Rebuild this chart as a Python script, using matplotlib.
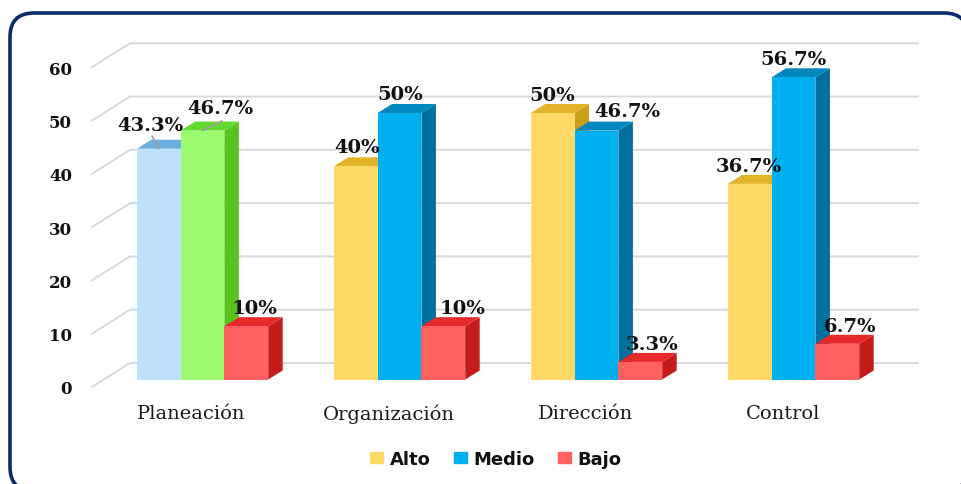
import matplotlib
matplotlib.use('Agg')
import matplotlib.pyplot as plt
from matplotlib.patches import FancyBboxPatch, Patch

categories = ['Planeación', 'Organización', 'Dirección', 'Control']
alto = [43.3, 40, 50, 36.7]
medio = [46.7, 50, 46.7, 56.7]
bajo = [10, 10, 3.3, 6.7]
alto_labels = ['43.3%', '40%', '50%', '36.7%']
medio_labels = ['46.7%', '50%', '46.7%', '56.7%']
bajo_labels = ['10%', '10%', '3.3%', '6.7%']
y_ticks = [0, 10, 20, 30, 40, 50, 60]

# colores (frente, tapa, lado)
amarillo = ('#FFD966', '#E2B428', '#C99E1C')
azul = ('#00B0F0', '#0088BE', '#00709E')
rojo = ('#FF6161', '#E62A2A', '#C41B1B')
celeste = ('#BDE0FC', '#6CAEDD', '#5C9CCB')
verde = ('#9CFB6E', '#62DA2E', '#58C31E')

# escala en pixeles de la figura
PX_X = 197.0
PX_Y = 5.33
X0 = 202.5
Y0 = 380.5
W, H = 961, 485

bar_w = 43.8 / PX_X
depth_x = 14.5 / PX_X
depth_y = 9 / PX_Y

fig = plt.figure(figsize=(W / 100, H / 100), dpi=100)
ax = fig.add_axes([0, 0, 1, 1])
ax.set_xlim(-X0 / PX_X, (W - X0) / PX_X)
ax.set_ylim(-(H - Y0) / PX_Y, Y0 / PX_Y)
ax.axis('off')

# marco redondeado
marco = FancyBboxPatch((10, H - 492), 958, 478, boxstyle='round,pad=0,rounding_size=24',
                       fc='white', ec='#0B2A6B', lw=2.6, zorder=0)
marco.set_transform(matplotlib.transforms.IdentityTransform())
ax.add_patch(marco)

# paredes: lineas de la cuadricula
wall_x0 = (130 - X0) / PX_X
wall_x1 = (918 - X0) / PX_X
front_x = (92 - X0) / PX_X
wall_dy = 16.5 / PX_Y
front_dy = -7.5 / PX_Y
for v in y_ticks:
    ax.plot([front_x, wall_x0, wall_x1], [v + front_dy, v + wall_dy, v + wall_dy],
            color='#D9D9D9', lw=1.4, zorder=1, solid_joinstyle='miter')
    ax.text((72 - X0) / PX_X, v + front_dy, str(v), ha='right', va='center_baseline',
            family='DejaVu Serif', weight='bold', fontsize=12, color='#111111', zorder=6)


def draw_bar(x, v, colors):
    front, top, side = colors
    ax.fill([x + bar_w, x + bar_w + depth_x, x + bar_w + depth_x, x + bar_w],
            [0, depth_y, v + depth_y, v], color=side, lw=0, zorder=3)
    ax.fill([x, x + depth_x, x + bar_w + depth_x, x + bar_w],
            [v, v + depth_y, v + depth_y, v], color=top, lw=0, zorder=3)
    ax.fill([x, x + bar_w, x + bar_w, x], [0, 0, v, v], color=front, lw=0, zorder=3)


series = [alto, medio, bajo]
labels = [alto_labels, medio_labels, bajo_labels]
styles = [amarillo, azul, rojo]
# desplazamiento de las etiquetas respecto al centro de la barra, en pixeles
offsets = [
    [(-8, 26), (1, 21), (0, 20), (-1, 20)],
    [(18, 25), (1, 21), (31, 22), (0, 20)],
    [(8, 20), (19, 20), (12, 20), (13, 20)],
]
for i in range(len(categories)):
    for s in range(3):
        x = i + (s - 1.5) * bar_w
        colors = styles[s]
        if i == 0 and s == 0:
            colors = celeste
        if i == 0 and s == 1:
            colors = verde
        draw_bar(x, series[s][i], colors)

for i in range(len(categories)):
    for s in range(3):
        xc = i + (s - 1) * bar_w
        dx, dy = offsets[s][i]
        ax.annotate(labels[s][i], xy=(xc, series[s][i]), xytext=(dx * 0.72, dy * 0.72),
                    textcoords='offset points', ha='center', va='center_baseline',
                    family='DejaVu Serif', weight='bold', fontsize=14, color='#111111', zorder=7)
    ax.text(i - 0.055, -(412 - Y0) / PX_Y, categories[i], ha='center', va='center_baseline',
            family='DejaVu Serif', fontsize=14, color='#1A1A1A', zorder=6)

# lineas guia de Planeacion
ax.annotate('', xy=(0 - bar_w, alto[0]), xytext=((152 - X0) / PX_X, (Y0 - 137) / PX_Y),
            arrowprops=dict(arrowstyle='-', color='#A0A0A0', lw=1.2, shrinkA=0, shrinkB=0), zorder=6)
ax.annotate('', xy=(0, medio[0]), xytext=((222 - X0) / PX_X, (Y0 - 122) / PX_Y),
            arrowprops=dict(arrowstyle='-', color='#A0A0A0', lw=1.2, shrinkA=0, shrinkB=0), zorder=6)

handles = [Patch(color=amarillo[0], label='Alto'), Patch(color=azul[0], label='Medio'),
           Patch(color=rojo[0], label='Bajo')]
leg = ax.legend(handles=handles, ncols=3, frameon=False, loc='center',
                bbox_to_anchor=(496 / W, 1 - 460 / H),
                prop=dict(family='DejaVu Sans', weight='bold', size=13),
                handlelength=0.72, handleheight=0.6, handletextpad=0.35, columnspacing=1.3,
                borderpad=0, labelcolor='#111111')

fig.savefig('out.png', dpi=100)
